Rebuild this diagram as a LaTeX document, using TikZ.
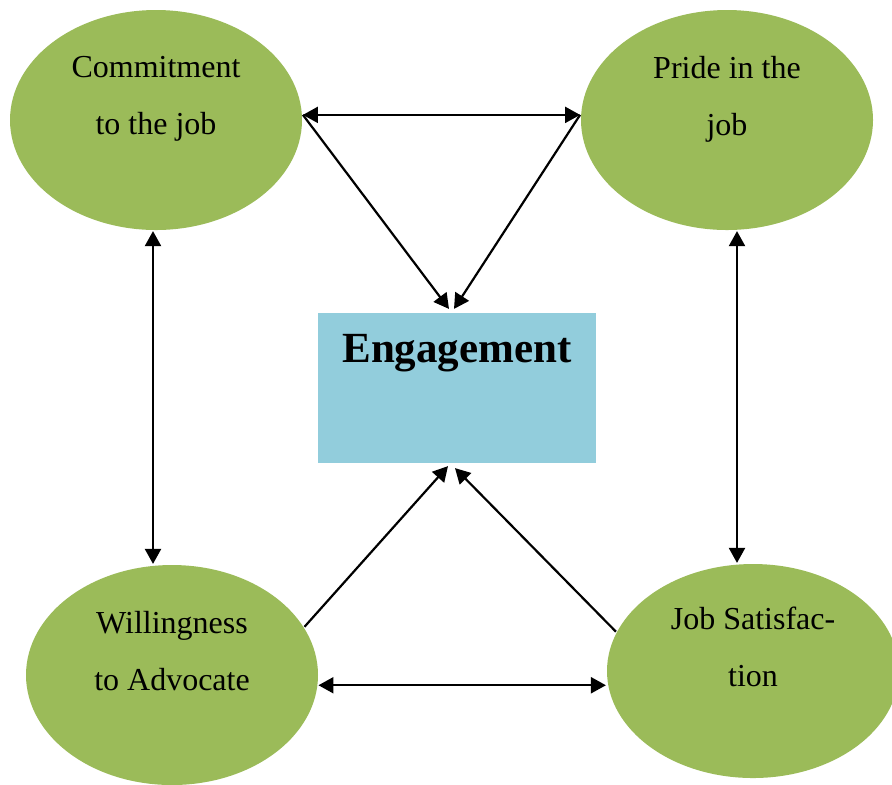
\documentclass[tikz,border=0pt]{standalone}
\usepackage{fontspec}
\setmainfont{Liberation Serif}
\usetikzlibrary{shapes.geometric}
\usetikzlibrary{arrows.meta}
\definecolor{bubblegreen}{HTML}{9BBB59}
\definecolor{boxblue}{HTML}{92CDDC}
\tikzset{
>={Triangle[length=7.5pt,width=8pt]}, % filled triangle tips
my bubble/.style={ellipse,fill=bubblegreen,minimum width=146pt,minimum height=110pt,inner sep=0pt},
my bubble text/.style={align=center,font=\fontsize{16}{28.5}\selectfont,
  execute at begin node=\strut,execute at end node=\strut,yshift=8pt},
my box/.style={rectangle,fill=boxblue,minimum width=139pt,minimum height=75pt,inner sep=0pt},
my box text/.style={anchor=base,yshift=-25.5pt,font=\fontsize{21.5}{26}\selectfont\bfseries},
}
\begin{document}
\begin{tikzpicture}[x=0.5pt,y=-0.5pt,line width=1.1pt]
\clip[use as bounding box] (0,0) rectangle (892,784);
\node[my bubble,label={[my bubble text]center:{Commitment\\to the job}}] (commit) at (156,120) {};
\node[my bubble,label={[my bubble text]center:{Pride in the\\job}}] (pride) at (727,120) {};
\node[my bubble,label={[my bubble text]center:{Willingness\\to Advocate}}] (willing) at (172,675) {};
\node[my bubble,minimum height=107pt,label={[my bubble text]center:{Job Satisfac-\\tion}}] (jobsat) at (753,671) {};
\node[my box,label={[my box text]north:Engagement}] (engage) at (457,388) {};
% two-way links
\draw[<->] (commit.2) -- (pride.178);
\draw[<->] (willing.-4) -- (willing.-4 -| jobsat.west);
\draw[<->] ([xshift=-1.5pt]commit.south) -- ([xshift=-1.5pt]commit.south |- willing.north);
\draw[<->] ([xshift=5pt]pride.south) -- ([xshift=5pt]pride.south |- jobsat.north);
% links into the box
\draw[->] (commit.2) -- ([xshift=-4pt,yshift=1.5pt]engage.north);
\draw[->] (pride.178) -- ([xshift=-1.5pt,yshift=1.5pt]engage.north);
\draw[->] (willing.20) -- ([xshift=-4.5pt,yshift=-1pt]engage.south);
\draw[->] (jobsat.164) -- ([xshift=-1pt,yshift=-2pt]engage.south);
\end{tikzpicture}
\end{document}
